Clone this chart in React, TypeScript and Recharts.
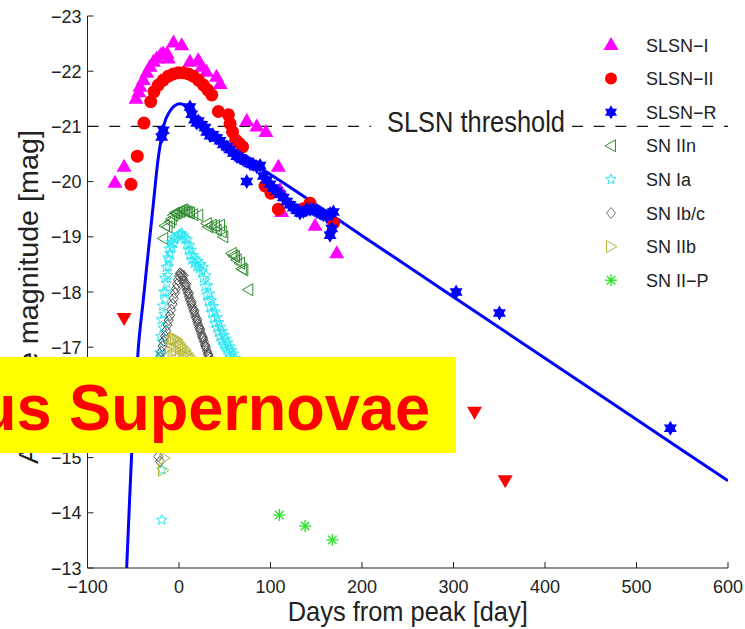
import React from 'react';
import { ComposedChart, Scatter, Line, XAxis, YAxis, ReferenceLine, Legend } from 'recharts';

const FONT = '"Liberation Sans", Arial, Helvetica, sans-serif';

type P = [number, number];

const xTicks = [-100, 0, 100, 200, 300, 400, 500, 600];
const yTicks = [-23, -22, -21, -20, -19, -18, -17, -16, -15, -14, -13];

const slsnI: P[] = [
  [-70, -19.98], [-60, -20.27], [-47, -21.5], [-44, -21.62], [-42.6, -21.72], [-39, -21.84], [-35.3, -21.97],
  [-31.7, -22.08], [-28, -22.17], [-24.4, -22.23], [-20, -22.3], [-17.2, -22.32], [-13, -22.32], [-11.7, -22.23],
  [-6, -22.52], [3, -22.47], [12, -22.17], [21, -22.2], [25, -22.08], [30, -21.99], [41, -21.9], [45, -21.77],
  [74, -21.1], [85, -21.0], [95, -20.9], [108.6, -20.27], [110.4, -19.85], [112.3, -19.45], [148.7, -19.2], [172.4, -18.7],
];

const slsnII: P[] = [
  [-52.5, -19.95], [-45.6, -20.46], [-38.3, -21.06], [-30.9, -21.45], [-27.3, -21.63], [-22.6, -21.75], [-17.2, -21.84],
  [-11.7, -21.91], [-6.2, -21.95], [-0.8, -21.97], [4.7, -21.97], [10.2, -21.95], [15.6, -21.91], [21.1, -21.84],
  [26.6, -21.75], [31.4, -21.66], [35.8, -21.57], [43, -21.27], [54, -21.21], [55.8, -21.05], [58.5, -20.9],
  [62, -20.75], [66, -20.69], [69.5, -20.63], [94, -19.92], [100.5, -19.79], [108.6, -19.5], [135.9, -19.51],
  [143.2, -19.61], [169, -19.25],
];

const slsnIILimits: P[] = [[-60, -17.53], [323, -15.83], [356.5, -14.59]];

const slsnR: P[] = [
  [-18.9, -20.81], [-17.2, -20.93], [12, -21.35], [13.9, -21.22], [17, -21.12], [19.4, -21.06], [21.1, -21.1],
  [24.8, -21.03], [28.4, -20.98], [30.3, -20.9], [33.9, -20.83], [37, -20.85], [41.2, -20.79], [44.8, -20.74],
  [48.4, -20.67], [52.2, -20.63], [55.5, -20.58], [59.4, -20.52], [63.1, -20.46], [66.7, -20.43], [70, -20.4],
  [74, -20.37], [77.5, -20.33], [81.2, -20.31], [85, -20.27], [88.6, -20.29], [74, -20.0], [92.2, -20.1],
  [95.9, -20.03], [99.5, -19.95], [103.1, -19.88], [106.7, -19.83], [110.4, -19.77], [114, -19.71], [117.8, -19.64],
  [121.4, -19.58], [125, -19.53], [128.7, -19.48], [132.3, -19.43], [136, -19.46], [139.6, -19.49], [143.2, -19.5],
  [146.8, -19.5], [150.5, -19.46], [154.2, -19.43], [157.8, -19.4], [161.5, -19.37], [165.1, -19.42], [168.7, -19.45],
  [165.1, -19.03], [167, -19.15], [302.9, -18.0], [350.2, -17.62], [537, -15.53],
];

const modelCurve: P[] = [
  [-57.2, -13.0], [-54.7, -13.96], [-51.7, -15.08], [-48.1, -16.08], [-44.5, -16.98], [-39.0, -17.86],
  [-33.9, -18.68], [-28.4, -19.54], [-23.0, -20.39], [-19.7, -20.75], [-16.4, -21.03], [-9.8, -21.28],
  [-4.4, -21.38], [1.1, -21.41], [6, -21.38], [12, -21.25], [20, -21.08], [30, -20.92], [45, -20.74],
  [60, -20.56], [80, -20.34], [100, -20.13], [200, -19.02], [300, -17.91], [400, -16.8], [500, -15.69], [600, -14.58],
];

const snIIn: P[] = [
  [-17.2, -18.97], [-15.3, -19.2], [-12.5, -19.18], [-9.8, -19.27], [-8, -19.32], [-6.2, -19.39], [-4.4, -19.43],
  [-2.5, -19.43], [-0.7, -19.45], [1.1, -19.46], [2.9, -19.48], [4.7, -19.49], [6.5, -19.46], [8.4, -19.45],
  [10.2, -19.44], [12, -19.43], [15.6, -19.4], [21.1, -19.39], [30.3, -19.24], [32, -19.18], [35.8, -19.21],
  [39.4, -19.2], [41.2, -19.12], [44.8, -19.21], [46.7, -19.09], [48.4, -19.0], [57.6, -18.7], [59.4, -18.66],
  [61.2, -18.64], [63.1, -18.58], [66.7, -18.52], [68.6, -18.42], [70.3, -18.4], [75.8, -18.04],
];

const snIa: P[] = [
  [-19.5, -16.85], [-18.5, -17.1], [-17.5, -17.35], [-16.5, -17.6], [-15.3, -17.86], [-14.3, -18.0], [-13.5, -18.16],
  [-12.5, -18.3], [-11.7, -18.46], [-10.8, -18.58], [-9.8, -18.7], [-8, -18.8], [-6.2, -18.88], [-4.4, -18.95],
  [-2.5, -19.0], [0, -19.04], [1.5, -19.05], [3, -19.06], [5, -19.02], [6.6, -18.97], [8.4, -18.87], [10.2, -18.76],
  [12, -18.67], [13.9, -18.58], [16.5, -18.52], [19.4, -18.46], [22, -18.42], [24.8, -18.37], [26.6, -18.25],
  [28.4, -18.1], [30.3, -17.95], [32, -17.83], [33.9, -17.73], [35.8, -17.62], [37.6, -17.52], [39.4, -17.43],
  [41.2, -17.35], [43, -17.27], [44.8, -17.19], [46.7, -17.12], [48.5, -17.06], [50.3, -17.01], [52.2, -16.95],
  [54, -16.89], [55.8, -16.83], [57.6, -16.77], [59.4, -16.72],
  [-21, -16.9], [-20, -17.2], [-19, -17.5], [-18, -17.75], [-16.8, -18.0], [-15.5, -18.25], [-14, -18.45],
  [-12.3, -18.62], [-10.5, -18.78], [-8.5, -18.9], [-6.5, -18.98], [9, -18.95], [11.5, -18.85], [13.5, -18.76],
  [15.5, -18.66], [18, -18.6], [21, -18.56], [24, -18.5], [27, -18.45], [29.5, -18.3], [31.5, -18.12],
  [33.5, -17.97], [35.5, -17.85], [37.5, -17.74], [39.5, -17.64], [41.5, -17.54], [43.5, -17.45], [45.5, -17.37],
  [47.5, -17.29], [49.5, -17.22], [51.5, -17.15], [53.5, -17.08], [55.5, -17.01], [57.5, -16.94], [59.5, -16.88],
  [61.5, -16.8], [-18.9, -14.78], [-18.9, -13.87],
];

const snIbc: P[] = [
  [-20.8, -16.82], [-19.4, -16.92], [-18.0, -17.02], [-16.6, -17.11], [-15.3, -17.2], [-14, -17.3], [-12.6, -17.4],
  [-11.2, -17.49], [-9.8, -17.58], [-8.5, -17.68], [-7.1, -17.78], [-5.8, -17.88], [-4.4, -17.98], [-3.3, -18.06],
  [-2.2, -18.14], [-1.1, -18.22], [0, -18.29], [1.1, -18.34], [2.2, -18.32], [3.3, -18.3], [4.4, -18.24],
  [5.5, -18.19], [6.6, -18.13], [7.7, -18.08], [8.8, -18.02], [9.8, -17.97], [10.9, -17.91], [12, -17.86],
  [13.1, -17.8], [14.2, -17.75], [15.3, -17.69], [16.4, -17.64], [17.5, -17.58], [18.6, -17.53], [19.7, -17.47],
  [20.8, -17.42], [21.9, -17.36], [23, -17.31], [24.1, -17.25], [25.2, -17.2], [26.3, -17.15], [27.3, -17.1],
  [28.4, -17.04], [29.5, -16.99], [30.6, -16.93], [31.7, -16.88], [32.8, -16.82],
  [5, -18.3], [8, -18.14], [11, -17.98], [14, -17.82], [17, -17.66], [20, -17.5], [23, -17.34], [26, -17.18],
  [29, -17.02], [32, -16.86], [35, -16.75], [-22.6, -15.02], [-20.8, -14.93],
];

const snIIb: P[] = [
  [-9.8, -17.0], [-8, -17.1], [-6.2, -17.15], [-4.4, -17.16], [-2.5, -17.14], [-0.7, -17.1], [1.1, -17.06],
  [2.9, -17.02], [4.7, -16.98], [6.6, -16.95], [8.4, -16.9], [10.2, -16.86], [12, -16.82], [-7, -16.9],
  [-3, -16.95], [1, -16.9], [5, -16.85], [9, -16.82], [-5, -16.85], [-16, -14.99], [-17.5, -14.77],
];

const snIIP: P[] = [[109.7, -13.96], [137.8, -13.76], [167.6, -13.51]];

const legendNames = ['SLSN\u2212I', 'SLSN\u2212II', 'SLSN\u2212R', 'SN IIn', 'SN Ia', 'SN Ib/c', 'SN IIb', 'SN II\u2212P'];
const legendKinds = ['triUp', 'circle', 'hex', 'triLeft', 'star5', 'diamond', 'triRight', 'aster'];

const C = {
  magenta: '#ff00ff', red: '#ff0000', blue: '#0000ff', iin: '#2f8a2f', ia: '#2ce6f2', ibc: '#505050',
  iib: '#b9b93c', iip: '#22e022',
};

const toPts = (a: P[]) => a.map(([day, mag]) => ({ day, mag }));
const poly = (pts: number[][]) => pts.map((p) => `${p[0].toFixed(2)},${p[1].toFixed(2)}`).join(' ');
const rad = (d: number) => (d * Math.PI) / 180;

function Marker({ kind, cx, cy, legend }: { kind: string; cx: number; cy: number; legend?: boolean }) {
  if (cx == null || cy == null || isNaN(cx) || isNaN(cy)) return <g />;
  switch (kind) {
    case 'triUp':
      return <polygon points={poly([[cx, cy - 8], [cx - 7.5, cy + 5], [cx + 7.5, cy + 5]])} fill={C.magenta} />;
    case 'circle':
      return <circle cx={cx} cy={cy} r={legend ? 6 : 6.5} fill={C.red} />;
    case 'hex': {
      const r = legend ? 7 : 7.5;
      const up = [-90, 30, 150].map((a) => [cx + r * Math.cos(rad(a)), cy + r * Math.sin(rad(a))]);
      const dn = [90, 210, 330].map((a) => [cx + r * Math.cos(rad(a)), cy + r * Math.sin(rad(a))]);
      return (
        <g fill={C.blue}>
          <polygon points={poly(up)} />
          <polygon points={poly(dn)} />
        </g>
      );
    }
    case 'triDown':
      return <polygon points={poly([[cx, cy + 8], [cx - 7.5, cy - 5], [cx + 7.5, cy - 5]])} fill={C.red} />;
    case 'triLeft':
      return (
        <polygon points={poly([[cx - 6, cy], [cx + 4.5, cy - 6], [cx + 4.5, cy + 6]])} fill="none" stroke={C.iin} strokeWidth={1} />
      );
    case 'triRight':
      return (
        <polygon points={poly([[cx + 6, cy], [cx - 4.5, cy - 6], [cx - 4.5, cy + 6]])} fill="none" stroke={C.iib} strokeWidth={1} />
      );
    case 'star5': {
      const R = 5.5;
      const r = 2.3;
      const pts: number[][] = [];
      for (let i = 0; i < 10; i++) {
        const a = -90 + i * 36;
        const rr = i % 2 === 0 ? R : r;
        pts.push([cx + rr * Math.cos(rad(a)), cy + rr * Math.sin(rad(a))]);
      }
      return <polygon points={poly(pts)} fill="none" stroke={C.ia} strokeWidth={1} />;
    }
    case 'diamond':
      return (
        <polygon
          points={poly([[cx, cy - 5.5], [cx + 4.5, cy], [cx, cy + 5.5], [cx - 4.5, cy]])}
          fill="none"
          stroke={legend ? '#777' : C.ibc}
          strokeWidth={1}
        />
      );
    case 'aster': {
      const r = 6;
      const d = r * 0.7071;
      return (
        <g stroke={C.iip} strokeWidth={1.3}>
          <line x1={cx - r} y1={cy} x2={cx + r} y2={cy} />
          <line x1={cx} y1={cy - r} x2={cx} y2={cy + r} />
          <line x1={cx - d} y1={cy - d} x2={cx + d} y2={cy + d} />
          <line x1={cx - d} y1={cy + d} x2={cx + d} y2={cy - d} />
        </g>
      );
    }
    default:
      return <g />;
  }
}

const fmt = (v: number) => (v < 0 ? '\u2212' + Math.abs(v) : String(v));

const BottomTick = (p: any) => (
  <text x={p.x} y={p.y} dy={13} textAnchor="middle" fontSize={18} fill="#222" fontFamily={FONT}>
    {fmt(p.payload.value)}
  </text>
);
const LeftTick = (p: any) => (
  <text x={p.x} y={p.y} dy={6.5} textAnchor="end" fontSize={18} fill="#222" fontFamily={FONT}>
    {fmt(p.payload.value)}
  </text>
);
const NoTick = () => <g />;

const XTitle = (p: any) => {
  const vb = p.viewBox || { x: 87.5, y: 568, width: 640, height: 61 };
  return (
    <text x={vb.x + vb.width / 2} y={vb.y + 53} textAnchor="middle" fontSize={28} fill="#222" fontFamily={FONT}
      textLength={240} lengthAdjust="spacingAndGlyphs">
      Days from peak [day]
    </text>
  );
};
const YTitle = (p: any) => {
  const vb = p.viewBox || { x: 0, y: 16, width: 87.5, height: 552 };
  const cx = vb.x + 37.5;
  const cy = vb.y + 281;
  return (
    <text x={cx} y={cy} transform={`rotate(-90, ${cx}, ${cy})`} textAnchor="middle" fontSize={28} fill="#222"
      fontFamily={FONT} textLength={334} lengthAdjust="spacingAndGlyphs">
      Absolute magnitude [mag]
    </text>
  );
};
const ThresholdLabel = (p: any) => {
  const vb = p.viewBox || { x: 571.8, y: 126.4 };
  return (
    <text x={vb.x - 7} y={vb.y + 6} textAnchor="end" fontSize={29} fill="#222" fontFamily={FONT}
      textLength={178} lengthAdjust="spacingAndGlyphs">
      SLSN threshold
    </text>
  );
};

const LegendBox = () => (
  <svg width={150} height={275} style={{ display: 'block', overflow: 'visible' }}>
    {legendNames.map((n, i) => {
      const y = 20 + i * 33.6;
      return (
        <g key={n}>
          <Marker kind={legendKinds[i]} cx={21} cy={y} legend />
          <text x={56} y={y + 6.5} fontSize={18} fill="#222" fontFamily={FONT}>
            {n}
          </text>
        </g>
      );
    })}
  </svg>
);

const shapeOf = (kind: string) => (p: any) => <Marker kind={kind} cx={p.cx} cy={p.cy} />;

const AX = { stroke: '#222', strokeWidth: 1 };

export default function App() {
  return (
    <div style={{ position: 'absolute', left: 0, top: 0, width: 745, height: 629, background: '#fff' }}>
      <ComposedChart width={745} height={629} margin={{ top: 16, right: 17, bottom: 0, left: 0 }}>
        <XAxis xAxisId="b" type="number" dataKey="day" domain={[-100, 600]} ticks={xTicks} interval={0}
          allowDataOverflow height={61} tickSize={-6} tickMargin={18} tick={BottomTick} axisLine={AX} tickLine={AX}
          label={XTitle} />
        <XAxis xAxisId="t" type="number" dataKey="day" orientation="top" domain={[-100, 600]} ticks={xTicks}
          interval={0} allowDataOverflow height={0} tickSize={-6} tick={NoTick} axisLine={AX} tickLine={AX} />
        <YAxis yAxisId="l" type="number" dataKey="mag" domain={[-23, -13]} reversed ticks={yTicks} interval={0}
          allowDataOverflow width={87.5} tickSize={-6} tickMargin={12} tick={LeftTick} axisLine={AX} tickLine={AX}
          label={YTitle} />
        <YAxis yAxisId="r" type="number" dataKey="mag" orientation="right" domain={[-23, -13]} reversed ticks={yTicks}
          interval={0} allowDataOverflow width={0} tickSize={-6} tick={NoTick} axisLine={AX} tickLine={AX} />

        <ReferenceLine xAxisId="b" yAxisId="l" segment={[{ x: -100, y: -21 }, { x: 210, y: -21 }]} stroke="#111"
          strokeWidth={1.2} strokeDasharray="11 10.7" />
        <ReferenceLine xAxisId="b" yAxisId="l" segment={[{ x: 429.5, y: -21 }, { x: 600, y: -21 }]} stroke="#111"
          strokeWidth={1.2} strokeDasharray="11 10.7" label={ThresholdLabel} />

        <Scatter name="SLSN-I" xAxisId="b" yAxisId="l" data={toPts(slsnI)} shape={shapeOf('triUp')} isAnimationActive={false} />
        <Scatter name="SLSN-II" xAxisId="b" yAxisId="l" data={toPts(slsnII)} shape={shapeOf('circle')} isAnimationActive={false} />
        <Scatter name="SLSN-II limits" xAxisId="b" yAxisId="l" data={toPts(slsnIILimits)} shape={shapeOf('triDown')} isAnimationActive={false} legendType="none" />
        <Scatter name="SLSN-R" xAxisId="b" yAxisId="l" data={toPts(slsnR)} shape={shapeOf('hex')} isAnimationActive={false} />
        <Line name="model" xAxisId="b" yAxisId="l" data={toPts(modelCurve)} dataKey="mag" type="monotone" stroke={C.blue}
          strokeWidth={3} dot={false} activeDot={false} isAnimationActive={false} legendType="none" />
        <Scatter name="SN IIn" xAxisId="b" yAxisId="l" data={toPts(snIIn)} shape={shapeOf('triLeft')} isAnimationActive={false} />
        <Scatter name="SN Ia" xAxisId="b" yAxisId="l" data={toPts(snIa)} shape={shapeOf('star5')} isAnimationActive={false} />
        <Scatter name="SN Ib/c" xAxisId="b" yAxisId="l" data={toPts(snIbc)} shape={shapeOf('diamond')} isAnimationActive={false} />
        <Scatter name="SN IIb" xAxisId="b" yAxisId="l" data={toPts(snIIb)} shape={shapeOf('triRight')} isAnimationActive={false} />
        <Scatter name="SN II-P" xAxisId="b" yAxisId="l" data={toPts(snIIP)} shape={shapeOf('aster')} isAnimationActive={false} />

        <Legend layout="vertical" align="center" verticalAlign="middle" content={LegendBox}
          wrapperStyle={{ left: 590, top: 25, width: 150, height: 275 }} />
      </ComposedChart>
      <svg width={745} height={629} style={{ position: 'absolute', left: 0, top: 0, pointerEvents: 'none' }}>
        <rect x={0} y={357} width={456} height={96} fill="#ffff00" />
        <text x={-22} y={430} fontSize={64} fontWeight="bold" fill="#ff0000" fontFamily={FONT} textLength={452}
          lengthAdjust="spacingAndGlyphs">
          us Supernovae
        </text>
      </svg>
    </div>
  );
}
